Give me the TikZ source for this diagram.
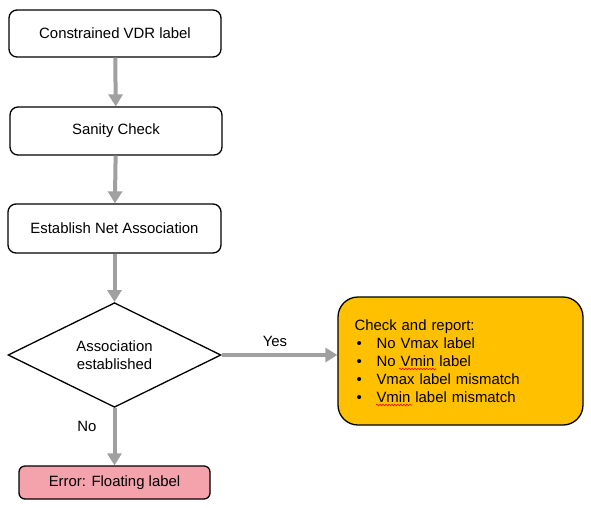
\documentclass[tikz,border=0pt]{standalone}
\usepackage{fontspec}
\setmainfont{Liberation Sans}
\usetikzlibrary{arrows.meta,shapes.geometric,decorations.pathmorphing}
\definecolor{arrowgray}{HTML}{A0A0A0}
\definecolor{boxorange}{HTML}{FFC000}
\definecolor{boxpink}{HTML}{F4A3AD}
\begin{document}
\begin{tikzpicture}[x=1pt,y=-1pt,
  every node/.style={font=\fontsize{14.9}{18}\selectfont},
  procbox/.style={draw=black, line width=1.3pt, rounded corners=8pt, fill=white, inner sep=0pt},
  decide/.style={draw=black, line width=1.3pt, diamond, inner sep=0pt, minimum width=213pt, minimum height=96pt, align=center},
  flow/.style={draw=arrowgray, line width=4pt, -{Triangle[length=12pt,width=14pt]}},
  lbl/.style={inner sep=0pt},
  squig/.style={red, line width=0.6pt, decorate, decoration={snake, amplitude=0.8pt, segment length=3pt}}
]
\useasboundingbox (0,0) rectangle (591,507);
\fill[white] (0,0) rectangle (591,507);

\node[procbox, minimum width=212pt, minimum height=47pt] (b1) at (115,33.5) {Constrained VDR label};
\node[procbox, minimum width=212pt, minimum height=48pt] (b2) at (116,131) {Sanity Check};
\node[procbox, minimum width=213pt, minimum height=49pt] (b3) at (114.5,228.5) {Establish Net Association};
\node[decide] (d) at (114.5,355) {Association\\[-0.5pt]established};
\node[procbox, fill=boxpink, minimum width=191pt, minimum height=33pt, rounded corners=6pt] (err) at (114.5,482.5) {Error: Floating label};
\node[procbox, fill=boxorange, rounded corners=20pt, minimum width=245pt, minimum height=128pt,
      text width=212pt, inner xsep=16pt, align=left] (rep) at (460.5,361) {Check and report:\\
\makebox[22pt][l]{\hspace{2pt}•}No Vmax label\\
\makebox[22pt][l]{\hspace{2pt}•}No Vmin label\\
\makebox[22pt][l]{\hspace{2pt}•}Vmax label mismatch\\
\makebox[22pt][l]{\hspace{2pt}•}Vmin label mismatch};

\draw[flow] (b1) -- (b2);
\draw[flow] (b2) -- (b3);
\draw[flow] (b3) -- (d);
\draw[flow] (d.east) -- (d.east -| rep.west);
\draw[flow] (d.south) -- (err.north);

\node[lbl] (yes) at (275,341) {Yes};
\node[lbl] (no) at (87,426) {No};

\draw[squig] (399,369) -- (436,369);
\draw[squig] (376,405) -- (412,405);
\end{tikzpicture}
\end{document}
